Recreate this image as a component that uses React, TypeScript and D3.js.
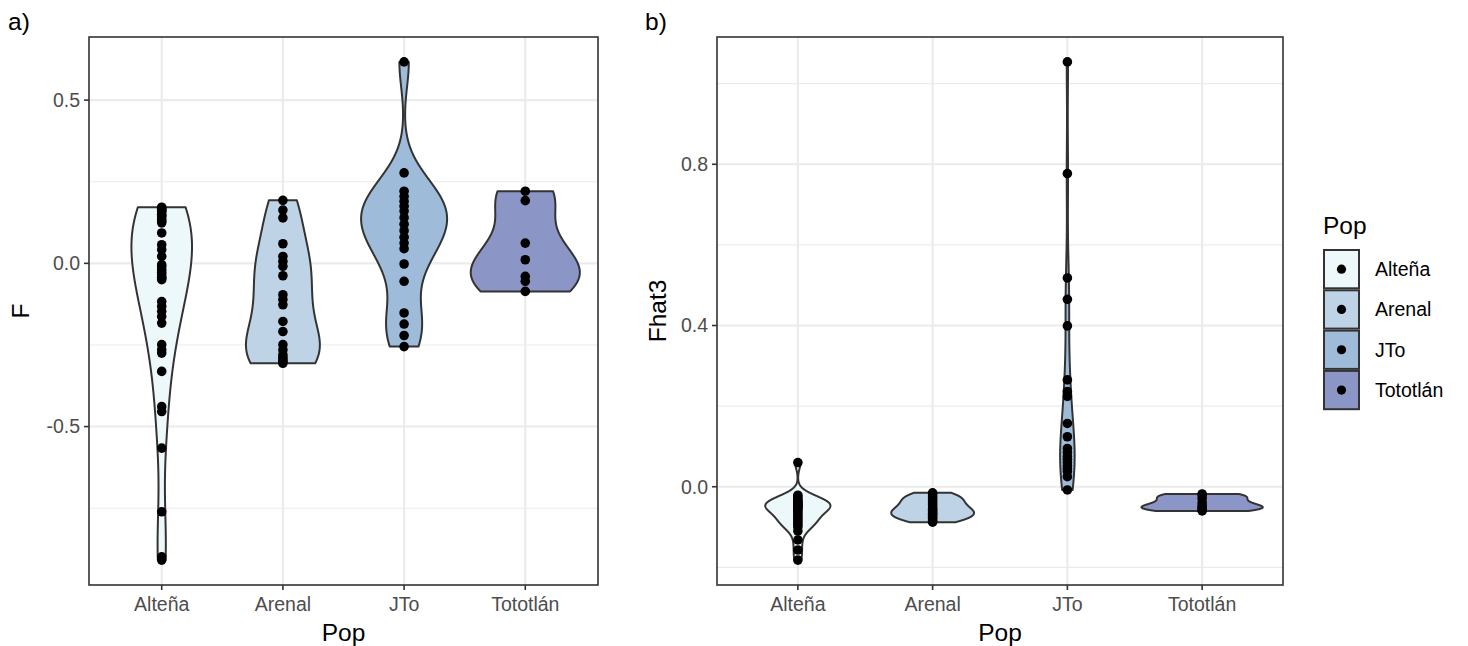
import React from "react";
import * as d3 from "d3";

const categories = ["Alteña", "Arenal", "JTo", "Tototlán"];
const fillColors = ["#EDF8FB", "#BFD3E6", "#9EBCDA", "#8C96C6"];

// Panel a) F values per population
const fAltena = [0.172, 0.168, 0.165, 0.16, 0.158, 0.15, 0.146, 0.142, 0.134, 0.13, 0.124, 0.093, 0.057, 0.042, 0.021, -0.004, -0.01, -0.019, -0.027, -0.035, -0.043, -0.045, -0.05, -0.117, -0.132, -0.147, -0.163, -0.183, -0.249, -0.265, -0.275, -0.331, -0.439, -0.454, -0.566, -0.761, -0.899, -0.909];
const fArenal = [0.193, 0.163, 0.139, 0.06, 0.021, 0.006, -0.009, -0.038, -0.096, -0.111, -0.127, -0.178, -0.209, -0.249, -0.265, -0.28, -0.288, -0.295, -0.3, -0.306];
const fJTo = [0.617, 0.277, 0.221, 0.205, 0.19, 0.175, 0.16, 0.14, 0.12, 0.1, 0.08, 0.062, 0.045, -0.002, -0.055, -0.152, -0.186, -0.221, -0.255];
const fTototlan = [0.221, 0.192, 0.062, 0.011, -0.04, -0.055, -0.086];

// Panel b) Fhat3 values per population
const hAltena = [0.06, -0.021, -0.025, -0.03, -0.034, -0.037, -0.04, -0.042, -0.044, -0.046, -0.048, -0.05, -0.053, -0.056, -0.06, -0.065, -0.07, -0.075, -0.08, -0.085, -0.09, -0.095, -0.1, -0.11, -0.132, -0.157, -0.182];
const hArenal = [-0.015, -0.02, -0.025, -0.03, -0.035, -0.04, -0.045, -0.05, -0.055, -0.058, -0.062, -0.065, -0.068, -0.072, -0.076, -0.08, -0.084, -0.088];
const hJTo = [1.054, 0.777, 0.518, 0.465, 0.399, 0.265, 0.236, 0.224, 0.157, 0.124, 0.095, 0.085, 0.075, 0.068, 0.06, 0.052, 0.045, 0.038, 0.025, -0.008];
const hTototlan = [-0.018, -0.022, -0.03, -0.04, -0.047, -0.052, -0.056, -0.06];

const fTicks = [-0.5, 0, 0.5];
const fMinor = [-0.75, -0.25, 0.25];
const hTicks = [0, 0.4, 0.8];
const hMinor = [-0.2, 0.2, 0.6, 1.0];

const FONT = "'Liberation Sans', Arial, Helvetica, sans-serif";
const TICK_COL = "#4D4D4D";
const LINE_COL = "#333333";
const GRID_COL = "#EBEBEB";
const TICK_FS = 19.5;
const TITLE_FS = 24.5;

function nrd0(v: number[]) {
  const s = [...v].sort(d3.ascending);
  const sd = d3.deviation(s) || 0;
  const iqr = (d3.quantileSorted(s, 0.75) as number) - (d3.quantileSorted(s, 0.25) as number);
  let lo = Math.min(sd, iqr / 1.34);
  if (!(lo > 0)) lo = sd || Math.abs(s[0]) || 1;
  return 0.9 * lo * Math.pow(s.length, -0.2);
}

function kde(v: number[], n = 512) {
  const bw = nrd0(v);
  const [lo, hi] = d3.extent(v) as [number, number];
  const pts: { y: number; d: number }[] = [];
  for (let i = 0; i < n; i++) {
    const y = lo + ((hi - lo) * i) / (n - 1);
    let d = 0;
    for (const x of v) {
      const z = (y - x) / bw;
      d += Math.exp(-0.5 * z * z);
    }
    d /= v.length * bw * Math.sqrt(2 * Math.PI);
    pts.push({ y, d });
  }
  return pts;
}

type PanelProps = {
  left: number;
  right: number;
  top: number;
  bottom: number;
  groups: number[][];
  ticks: number[];
  minor: number[];
  yTitle: string;
  yTitleX: number;
  tag: string;
  tagX: number;
};

function fmt(v: number) {
  return v.toFixed(1);
}

function Panel(p: PanelProps) {
  const all = p.groups.flat();
  const [mn, mx] = d3.extent(all) as [number, number];
  const pad = (mx - mn) * 0.05;
  const y = d3.scaleLinear().domain([mn - pad, mx + pad]).range([p.bottom, p.top]);
  // discrete position scale with 0.6 expansion on each side
  const x = d3
    .scalePoint<string>()
    .domain(categories)
    .range([p.left, p.right])
    .padding(0.6);
  const unit = x.step();
  const cx = (i: number) => x(categories[i]) as number;
  const halfW = (unit * 0.9) / 2;

  const dens = p.groups.map((g) => kde(g));
  const maxD = d3.max(dens.flat(), (d) => d.d) as number;
  const line = d3
    .line<[number, number]>()
    .x((d) => d[0])
    .y((d) => d[1]);

  const tickLen = 5;
  return (
    <g>
      <rect x={p.left} y={p.top} width={p.right - p.left} height={p.bottom - p.top} fill="#FFFFFF" />
      {p.minor
        .filter((v) => y(v) > p.top && y(v) < p.bottom)
        .map((v) => (
          <line key={"mi" + v} x1={p.left} x2={p.right} y1={y(v)} y2={y(v)} stroke={GRID_COL} strokeWidth={1.1} />
        ))}
      {p.ticks.map((v) => (
        <line key={"ma" + v} x1={p.left} x2={p.right} y1={y(v)} y2={y(v)} stroke={GRID_COL} strokeWidth={2.1} />
      ))}
      {categories.map((c, i) => (
        <line key={"vx" + c} x1={cx(i)} x2={cx(i)} y1={p.top} y2={p.bottom} stroke={GRID_COL} strokeWidth={2.1} />
      ))}
      {dens.map((ds, i) => {
        const rightSide: [number, number][] = ds.map((d) => [cx(i) + (d.d / maxD) * halfW, y(d.y)]);
        const leftSide: [number, number][] = ds
          .slice()
          .reverse()
          .map((d) => [cx(i) - (d.d / maxD) * halfW, y(d.y)]);
        return (
          <path
            key={"v" + i}
            d={(line([...rightSide, ...leftSide]) as string) + "Z"}
            fill={fillColors[i]}
            stroke={LINE_COL}
            strokeWidth={2}
            strokeLinejoin="round"
          />
        );
      })}
      {p.groups.map((g, i) =>
        g.map((v, j) => <circle key={"p" + i + "-" + j} cx={cx(i)} cy={y(v)} r={4.8} fill="#000000" />)
      )}
      <rect
        x={p.left}
        y={p.top}
        width={p.right - p.left}
        height={p.bottom - p.top}
        fill="none"
        stroke={LINE_COL}
        strokeWidth={1.6}
      />
      {p.ticks.map((v) => (
        <g key={"yt" + v}>
          <line x1={p.left - tickLen} x2={p.left} y1={y(v)} y2={y(v)} stroke={LINE_COL} strokeWidth={1.6} />
          <text
            x={p.left - tickLen - 4}
            y={y(v)}
            dy="0.35em"
            textAnchor="end"
            fontFamily={FONT}
            fontSize={TICK_FS}
            fill={TICK_COL}
          >
            {fmt(v)}
          </text>
        </g>
      ))}
      {categories.map((c, i) => (
        <g key={"xt" + c}>
          <line x1={cx(i)} x2={cx(i)} y1={p.bottom} y2={p.bottom + tickLen} stroke={LINE_COL} strokeWidth={1.6} />
          <text x={cx(i)} y={p.bottom + 26} textAnchor="middle" fontFamily={FONT} fontSize={TICK_FS} fill={TICK_COL}>
            {c}
          </text>
        </g>
      ))}
      <text
        x={(p.left + p.right) / 2}
        y={p.bottom + 56}
        textAnchor="middle"
        fontFamily={FONT}
        fontSize={TITLE_FS}
        fill="#000000"
      >
        Pop
      </text>
      <text
        transform={`translate(${p.yTitleX},${(p.top + p.bottom) / 2}) rotate(-90)`}
        textAnchor="middle"
        fontFamily={FONT}
        fontSize={TITLE_FS}
        fill="#000000"
      >
        {p.yTitle}
      </text>
      <text x={p.tagX} y={30} fontFamily={FONT} fontSize={TITLE_FS} fill="#000000">
        {p.tag}
      </text>
    </g>
  );
}

function Legend() {
  const lx = 1323;
  const ly = 249;
  const kw = 37;
  const kh = 40.3;
  return (
    <g>
      <text x={lx} y={234} fontFamily={FONT} fontSize={TITLE_FS} fill="#000000">
        Pop
      </text>
      {categories.map((c, i) => (
        <g key={"lg" + c}>
          <rect
            x={lx + 1}
            y={ly + i * kh + 1}
            width={kw - 2}
            height={kh - 2}
            fill={fillColors[i]}
            stroke={LINE_COL}
            strokeWidth={2}
          />
          <circle cx={lx + kw / 2} cy={ly + i * kh + kh / 2} r={4.6} fill="#000000" />
          <text
            x={lx + kw + 15}
            y={ly + i * kh + kh / 2}
            dy="0.35em"
            fontFamily={FONT}
            fontSize={TICK_FS}
            fill="#000000"
          >
            {c}
          </text>
        </g>
      ))}
    </g>
  );
}

export default function App() {
  return (
    <svg
      width={1468}
      height={646}
      viewBox="0 0 1468 646"
      style={{ position: "absolute", left: 0, top: 0, background: "#FFFFFF" }}
    >
      <rect x={0} y={0} width={1468} height={646} fill="#FFFFFF" />
      <Panel
        left={89}
        right={598}
        top={37}
        bottom={585}
        groups={[fAltena, fArenal, fJTo, fTototlan]}
        ticks={fTicks}
        minor={fMinor}
        yTitle="F"
        yTitleX={29}
        tag="a)"
        tagX={8}
      />
      <Panel
        left={717}
        right={1283}
        top={37}
        bottom={585}
        groups={[hAltena, hArenal, hJTo, hTototlan]}
        ticks={hTicks}
        minor={hMinor}
        yTitle="Fhat3"
        yTitleX={666}
        tag="b)"
        tagX={645}
      />
      <Legend />
    </svg>
  );
}
